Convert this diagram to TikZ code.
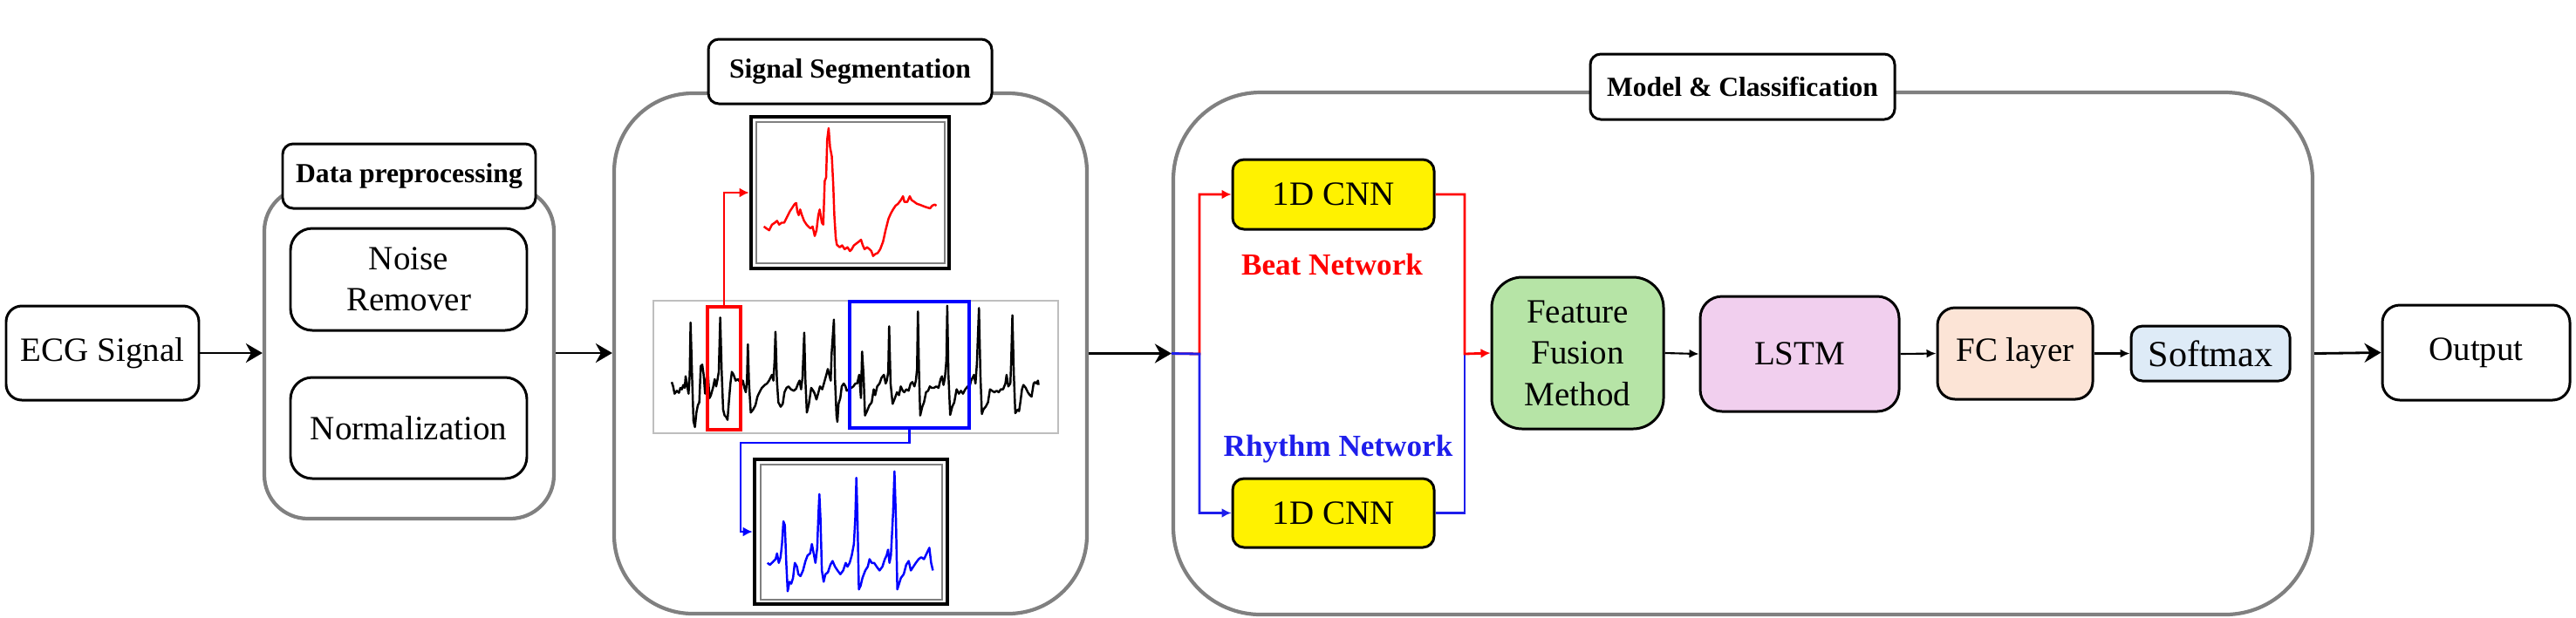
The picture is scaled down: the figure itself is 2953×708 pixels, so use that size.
\documentclass[tikz,border=0pt]{standalone}
\usepackage{fontspec}
\setmainfont{Liberation Serif}
\usetikzlibrary{arrows.meta,calc}
\definecolor{outergray}{RGB}{128,128,128}
\definecolor{fusegreen}{RGB}{182,228,166}
\definecolor{lstmpink}{RGB}{241,207,238}
\definecolor{fcpeach}{RGB}{252,228,214}
\definecolor{smblue}{RGB}{222,235,247}
\definecolor{rhyblue}{RGB}{30,30,235}
\definecolor{stripgray}{RGB}{190,190,190}
\tikzset{
  wh/.style 2 args={minimum width=#1, minimum height=#2},
  box/.style={draw=black, line width=0.85pt, rounded corners=#1, inner sep=0pt, align=center,
    font=\fontsize{11.1}{13.5}\selectfont},
  box/.default=2mm,
  outerbox/.style={draw=outergray, line width=1.2pt, rounded corners=#1, inner sep=0pt},
  lbl/.style={draw=black, line width=0.85pt, fill=white, rounded corners=1.2mm, inner sep=0pt,
    font=\fontsize{9}{11}\selectfont\bfseries},
  frameout/.style={draw=black, line width=1.3pt, inner sep=0pt},
  framein/.style={draw=gray, line width=0.4pt, inner sep=0pt},
  bigarrow/.style={line width=0.8pt, -{Stealth[length=1.9mm,width=2.2mm,inset=0.6mm]}},
  smallarrow/.style={line width=0.6pt, -{Latex[length=1.1mm,width=1mm]}},
  colarrow/.style={line width=0.8pt, -{Latex[length=1.1mm,width=1.1mm]}},
  netlabel/.style={inner sep=0pt, font=\fontsize{10}{12}\selectfont\bfseries},
  sig/.style={line width=0.7pt, line join=round}
}
\begin{document}
\begin{tikzpicture}[x=0.1mm, y=-0.1mm]
\useasboundingbox (0,0) rectangle (2953,708);

% ---------- input ----------
\node[box=1.8mm, wh={22.1mm}{10.8mm}] (ecg) at (117.5,405) {ECG Signal};

% ---------- data preprocessing ----------
\node[outerbox=5mm, wh={33.2mm}{38mm}] (ppouter) at (469,405) {};
\node[lbl, wh={29mm}{7.4mm}] (pplabel) at (469,202) {Data preprocessing};
\node[box=2.5mm, wh={27.1mm}{11.7mm}] (noise) at (468.5,320.5) {Noise\\Remover};
\node[box=2.5mm, wh={27.1mm}{11.6mm}] (norm) at (468.5,491) {Normalization};

% ---------- signal segmentation ----------
\node[outerbox=9mm, wh={54.2mm}{59.7mm}] (segouter) at (975,405.5) {};
\node[lbl, wh={32.5mm}{7.4mm}] (seglabel) at (974.5,82) {Signal Segmentation};

\node[frameout, wh={22.7mm}{17.4mm}] (redsnip) at (974.5,221) {};
\node[framein, wh={21.6mm}{16.2mm}] (redsnipin) at (975,221) {};
\node[draw=stripgray, line width=0.4pt, inner sep=0pt, wh={46.4mm}{15.2mm}] (strip) at (981,421) {};
\node[frameout, wh={22.1mm}{16.6mm}] (bluesnip) at (975.5,610) {};
\node[framein, wh={20.8mm}{15.5mm}] (bluesnipin) at (976,610.5) {};

% full ECG strip
\begin{scope}[xshift=74mm, yshift=-33mm, x=0.03333mm, y=-0.03333mm]
\draw[sig, black] plot coordinates {(90,325) (95,340) (100,365) (108,355) (115,362) (120,345) (125,350) (130,335) (135,345) (138,305) (142,330) (148,365) (152,300) (155,120) (160,300) (165,460) (170,480) (175,430) (180,405) (185,395) (190,270) (195,265) (200,300) (205,365) (210,310) (215,300) (220,380) (225,370) (232,345) (238,315) (243,340) (247,320) (252,290) (257,103) (262,290) (267,420) (272,440) (277,445) (282,455) (287,390) (292,330) (297,290) (303,300) (310,320) (318,315) (325,325) (330,335) (335,320) (340,345) (345,360) (349,320) (352,195) (356,330) (362,430) (370,420) (378,405) (385,375) (392,360) (400,345) (410,335) (418,330) (425,320) (430,310) (435,300) (440,320) (444,250) (447,152) (452,320) (457,395) (465,410) (472,400) (478,360) (485,345) (492,340) (500,350) (510,355) (518,348) (525,330) (530,320) (535,350) (540,310) (546,155) (550,320) (555,430) (562,400) (570,345) (577,355) (582,365) (588,385) (595,360) (600,340) (608,350) (615,325) (622,300) (627,280) (632,300) (637,320) (640,230) (648,110) (652,320) (657,440) (660,462) (664,400) (670,380) (675,340) (682,330) (688,340) (692,355) (700,350) (708,345) (715,340) (722,330) (728,330) (735,300) (741,380) (745,220) (750,300) (755,440) (762,425) (770,405) (778,395) (785,350) (790,370) (797,340) (805,330) (812,310) (820,300) (826,330) (830,320) (835,290) (838,133) (843,330) (850,400) (858,380) (865,360) (872,370) (878,340) (885,355) (890,360) (897,350) (905,355) (912,330) (918,325) (925,340) (930,320) (934,280) (937,82) (941,300) (945,440) (952,410) (958,395) (965,360) (972,355) (978,340) (985,345) (992,345) (1000,340) (1008,345) (1015,315) (1020,305) (1025,335) (1030,310) (1035,250) (1038,62) (1042,300) (1048,438) (1055,410) (1062,395) (1070,350) (1078,365) (1085,355) (1092,365) (1100,350) (1108,340) (1115,340) (1120,320) (1125,310) (1130,300) (1135,330) (1140,260) (1147,70) (1152,300) (1157,435) (1162,420) (1170,410) (1178,395) (1185,350) (1192,355) (1200,360) (1208,355) (1215,360) (1222,350) (1230,350) (1238,330) (1242,300) (1248,340) (1255,330) (1258,250) (1262,95) (1267,300) (1272,432) (1280,420) (1285,425) (1290,390) (1295,350) (1300,335) (1308,345) (1315,360) (1322,370) (1328,375) (1335,330) (1340,325) (1345,330) (1350,320) (1352,335)};
\end{scope}

% beat snippet (red) and rhythm snippet (blue)
\begin{scope}[xshift=69mm, yshift=-3mm, x=0.0408mm, y=-0.04337mm]
\draw[sig, red] plot coordinates {(455,530) (462,535) (470,540) (478,525) (486,520) (492,515) (498,525) (505,520) (512,520) (520,505) (528,490) (535,480) (542,470) (546,468) (549,490) (553,500) (557,485) (562,500) (568,515) (575,525) (580,530) (586,535) (592,530) (598,555) (603,540) (608,500) (612,485) (618,520) (622,525) (626,410) (630,400) (633,300) (637,270) (641,320) (646,345) (650,420) (653,500) (657,560) (660,578) (668,585) (675,580) (682,590) (690,585) (697,595) (702,590) (708,580) (715,575) (722,570) (728,565) (733,580) (738,590) (745,585) (752,590) (757,595) (762,608) (768,603) (775,600) (782,590) (790,570) (797,540) (805,510) (812,495) (818,485) (825,475) (832,470) (840,460) (846,450) (850,465) (858,465) (865,450) (870,460) (878,465) (885,470) (892,472) (900,475) (908,478) (915,480) (922,482) (928,475) (935,472) (940,475)};
\draw[sig, blue] plot coordinates {(465,1420) (472,1425) (480,1418) (488,1410) (492,1395) (497,1420) (502,1405) (506,1370) (510,1310) (514,1320) (518,1420) (522,1495) (527,1470) (532,1475) (537,1460) (542,1420) (548,1430) (552,1450) (558,1455) (565,1440) (572,1415) (578,1400) (585,1395) (590,1370) (595,1395) (600,1420) (605,1380) (608,1300) (611,1238) (614,1300) (618,1440) (623,1470) (628,1450) (635,1445) (642,1425) (648,1415) (655,1430) (662,1440) (670,1450) (678,1440) (685,1420) (690,1430) (696,1420) (702,1400) (708,1370) (712,1300) (715,1195) (718,1300) (722,1490) (727,1480) (732,1460) (740,1440) (747,1430) (752,1410) (758,1420) (765,1420) (772,1430) (780,1440) (788,1430) (795,1410) (800,1400) (804,1385) (808,1420) (812,1400) (818,1290) (822,1178) (826,1300) (830,1490) (835,1475) (840,1460) (848,1450) (855,1425) (862,1415) (868,1440) (875,1430) (882,1420) (890,1410) (897,1405) (905,1410) (910,1400) (915,1390) (920,1380) (925,1420) (930,1440)};
\end{scope}

\node[draw=red, line width=1.1pt, inner sep=0pt, wh={3.8mm}{14.1mm}] (redrect) at (830,422.5) {};
\node[draw=blue, line width=1.1pt, inner sep=0pt, wh={13.7mm}{14.5mm}] (bluerect) at (1042.5,418.5) {};
\coordinate (bj) at (849,508);
\draw[red, colarrow] (redrect.north) |- (redsnip.west);
\draw[blue, colarrow] (bluerect.south) |- (bj) |- (bluesnip.west);

% ---------- model & classification ----------
\node[outerbox=10mm, wh={130.6mm}{59.9mm}] (modelouter) at (1998,405.5) {};
\node[lbl, wh={34.9mm}{7.5mm}] (modellabel) at (1997.5,99.5) {Model \& Classification};

\node[box=1.3mm, fill=yellow, wh={23.1mm}{8mm}] (cnn1) at (1528.5,223) {1D CNN};
\node[box=1.3mm, fill=yellow, wh={23.1mm}{7.9mm}] (cnn2) at (1528.5,588.5) {1D CNN};
\node[netlabel, text=red] (beat) at (1527,303) {Beat Network};
\node[netlabel, text=rhyblue] (rhythm) at (1534,515) {Rhythm Network};

\node[box=3.5mm, fill=fusegreen, wh={19.7mm}{17.4mm}] (fusion) at (1808.5,405) {Feature\\Fusion\\Method};
\node[box=2.5mm, fill=lstmpink, wh={22.8mm}{13.2mm}] (lstm) at (2063,406) {LSTM};
\node[box=2mm, fill=fcpeach, wh={17.8mm}{10.5mm}] (fc) at (2310,405.5) {FC layer};
\node[box=1.3mm, fill=smblue, wh={18.2mm}{6.3mm}, font=\fontsize{12}{14}\selectfont] (softmax) at (2534,405.5) {Softmax};

\coordinate (sp) at (1375,406);
\coordinate (mg) at (1679,406);
\draw[red, colarrow] (modelouter.west) -- (sp) |- (cnn1.west);
\draw[rhyblue, colarrow] (modelouter.west) -- (sp) |- (cnn2.west);
\draw[rhyblue, line width=0.8pt] (cnn2.east) -| (mg);
\draw[red, colarrow] (cnn1.east) -| (mg) -- (fusion.west);

\draw[smallarrow] (fusion.east) -- (lstm.west);
\draw[smallarrow] (lstm.east) -- (fc.west);
\draw[smallarrow] (fc.east) -- (softmax.west);

% ---------- output ----------
\node[box=2mm, wh={21.5mm}{10.9mm}] (output) at (2838.5,404.5) {Output};

% ---------- main arrows ----------
\draw[bigarrow] (ecg.east) -- (ppouter.west);
\draw[bigarrow] (ppouter.east) -- (segouter.west |- ppouter.east);
\draw[bigarrow] (segouter.east) -- (modelouter.west);
\draw[bigarrow] (modelouter.east) -- (output.west);
\end{tikzpicture}
\end{document}
